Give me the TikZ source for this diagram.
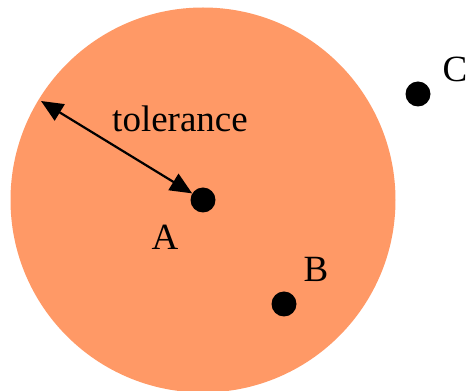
\documentclass[tikz,border=0pt]{standalone}
\usepackage{fontspec}
\setmainfont{Liberation Serif}
\usepackage{xcolor}
\usetikzlibrary{arrows.meta,positioning}
\definecolor{zonefill}{HTML}{FF9966}

\begin{document}
\begin{tikzpicture}[
  x=1pt,y=1pt,
  every node/.style={font=\fontsize{37}{44}\selectfont,inner sep=0pt},
  dot/.style={circle,fill=black,minimum size=25pt,inner sep=0pt},
  flow/.style={{Triangle[length=22pt,width=19pt]}-{Triangle[length=22pt,width=19pt]},line width=2.2pt}
]
  \useasboundingbox (0,0) rectangle (467,391);
  \fill[zonefill] (203,191) circle[radius=192.5];

  \node[dot] (ptA) at (203,191) {};
  \node[dot] (ptB) at (284,87) {};
  \node[dot] (ptC) at (418,297) {};

  \node (labA) at (165,154) {A};
  \node (labB) at (316,122) {B};
  \node (labC) at (455,322) {C};
  \node (tol) at (180,272) {tolerance};

  \coordinate (edge) at (41,290);
  \draw[flow] (edge) -- (ptA);
\end{tikzpicture}
\end{document}
